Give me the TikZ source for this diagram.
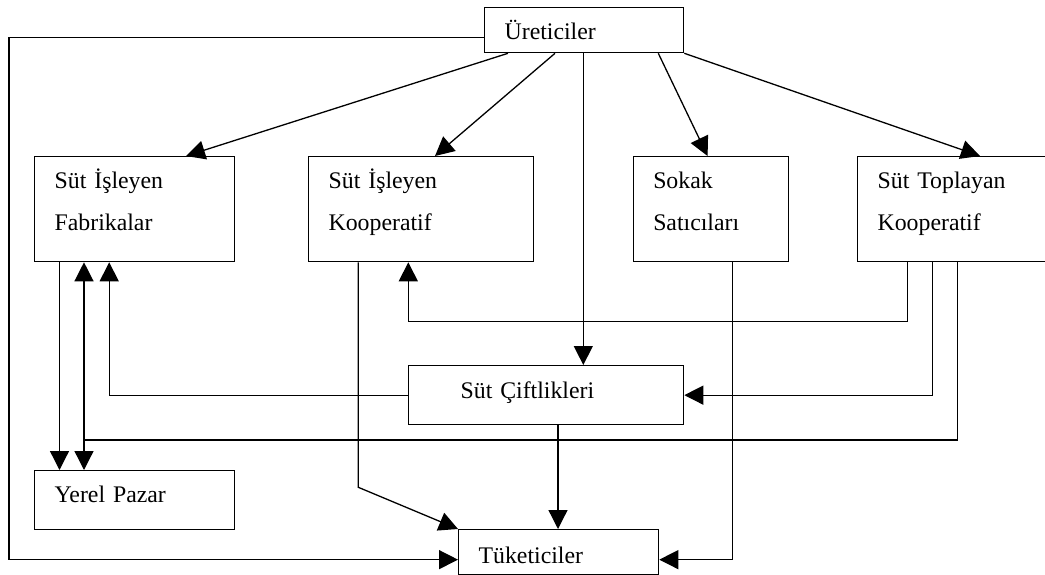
\documentclass[tikz,border=0pt]{standalone}
\usepackage{fontspec}
\setmainfont{Liberation Serif}
\usetikzlibrary{arrows.meta}
\tikzset{
    cell/.style={draw, line width=1.3pt, anchor=north west, inner sep=0pt, inner xsep=20pt,
        align=left, font=\fontsize{23.8}{42}\selectfont},
    arr/.style={-{Triangle[length=19pt,width=19pt]}, line width=1.3pt},
    plain/.style={line width=1.3pt}
}
\begin{document}
\begin{tikzpicture}[x=1pt,y=-1pt]
    \useasboundingbox (0,0) rectangle (1045,575);
    \clip (0,0) rectangle (1045,575);
    \node[cell, minimum width=199, minimum height=45, text width=159, text height=19pt, text depth=0pt] (ure) at (484,7) {Üreticiler};
    \node[cell, minimum width=200, minimum height=105, text width=160, text height=10pt, text depth=52pt] (fab) at (34,156) {Süt İşleyen\\Fabrikalar};
    \node[cell, minimum width=225, minimum height=105, text width=185, text height=10pt, text depth=52pt] (kop) at (308,156) {Süt İşleyen\\Kooperatif};
    \node[cell, minimum width=155, minimum height=105, text width=115, text height=10pt, text depth=52pt] (sok) at (632.6,156) {Sokak\\Satıcıları};
    \node[cell, minimum width=200, minimum height=105, text width=160, text height=10pt, text depth=52pt] (top) at (857,156) {Süt Toplayan\\Kooperatif};
    \node[cell, inner xsep=52pt, minimum width=275, minimum height=59, text width=171, text height=6pt, text depth=0pt] (cif) at (408,365) {Süt Çiftlikleri};
    \node[cell, minimum width=200, minimum height=59, text width=160, text height=4pt, text depth=0pt] (yer) at (34,470) {Yerel Pazar};
    \node[cell, minimum width=200, minimum height=45, text width=160, text height=22pt, text depth=0pt] (tuk) at (458,529) {Tüketiciler};
    \coordinate (split) at (84,440);
    \draw[arr] ([xshift=24pt]ure.south west) to ([xshift=152pt]fab.north west);
    \draw[arr] ([xshift=71pt]ure.south west) to ([xshift=127pt]kop.north west);
    \draw[arr] ([xshift=99.3pt]ure.south west) to ([xshift=175.3pt]cif.north west);
    \draw[arr] ([xshift=174.3pt]ure.south west) to ([xshift=75pt]sok.north west);
    \draw[arr] (ure.south east) to ([xshift=123pt]top.north west);
    \draw[arr] ([yshift=-7.5pt]ure.west) -- ++(-475,0) |- ([yshift=-7.5pt]tuk.west);
    \draw[arr] ([xshift=25.5pt]fab.south west) to ([xshift=25.5pt]yer.north west);
    \draw[plain] ([xshift=100.2pt]top.south west) |- (split);
    \draw[arr] (split) to ([xshift=50pt]fab.south west);
    \draw[arr] (split) to ([xshift=50pt]yer.north west);
    \draw[arr] (cif.west) -| ([xshift=75.2pt]fab.south west);
    \draw[arr] ([xshift=50.3pt]kop.south west) -- ++(0,225) -- (tuk.north west);
    \draw[arr] ([xshift=50.2pt]top.south west) -- ++(0,59) -| ([xshift=100.3pt]kop.south west);
    \draw[arr] ([xshift=75.5pt]top.south west) |- (cif.east);
    \draw[arr] ([xshift=150pt]cif.south west) to ([xshift=150pt]cif.south west |- tuk.north);
    \draw[arr] ([xshift=100pt]sok.south west) |- ([yshift=-7.5pt]tuk.east);
\end{tikzpicture}
\end{document}
